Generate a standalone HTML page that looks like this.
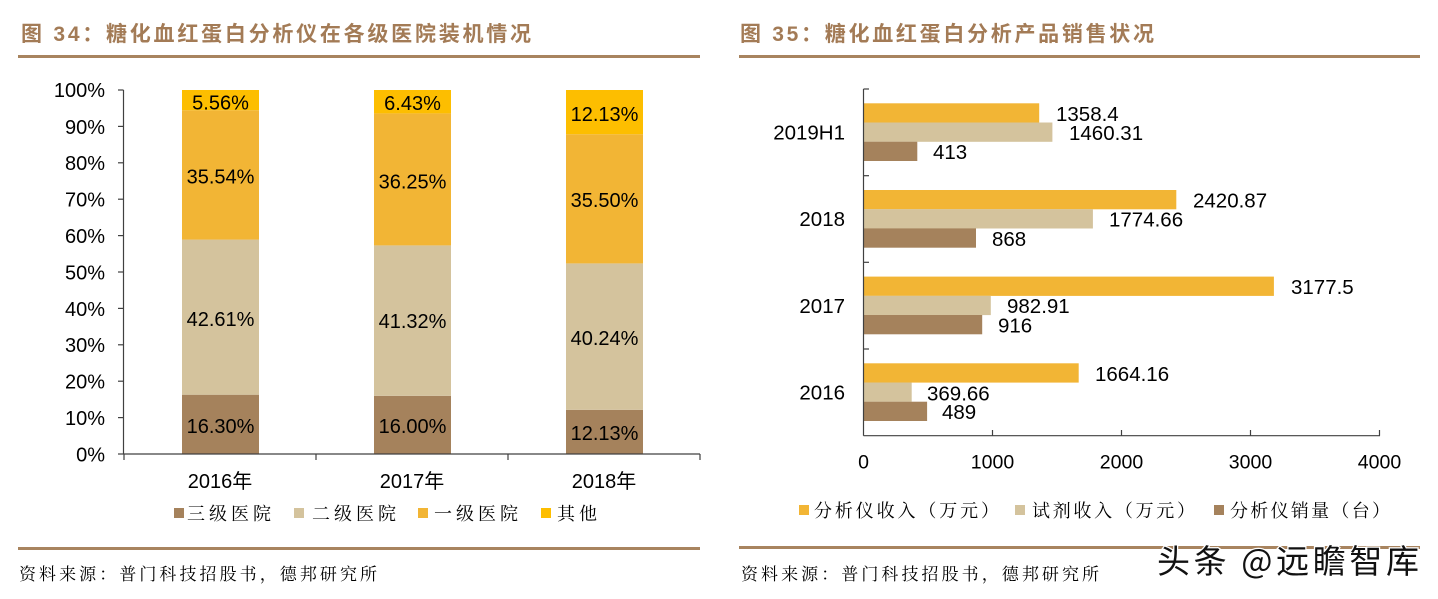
<!DOCTYPE html>
<html>
<head>
<meta charset="utf-8">
<style>
html,body{margin:0;padding:0;background:#fff;}
svg{display:block;}
.num{font-family:"Liberation Sans",Arial,sans-serif;fill:#000;}
.title{font-family:"Liberation Sans","Noto Sans CJK SC",sans-serif;font-weight:bold;fill:#a37b56;font-size:21px;}
.leg{font-family:"Noto Serif CJK SC","Noto Sans CJK SC",serif;fill:#000;font-size:18px;}
.src{font-family:"Noto Serif CJK SC","Noto Sans CJK SC",serif;fill:#000;font-size:17px;}
.cat{font-family:"Liberation Sans","Noto Sans CJK SC",sans-serif;fill:#000;font-size:20px;}
</style>
</head>
<body>
<svg width="1438" height="599" viewBox="0 0 1438 599" xmlns="http://www.w3.org/2000/svg">
<rect width="1438" height="599" fill="#fff"/>

<!-- ============ LEFT CHART ============ -->
<text class="title" x="21" y="41" textLength="510">图 34：糖化血红蛋白分析仪在各级医院装机情况</text>
<rect x="18" y="55" width="682" height="3" fill="#a8845f"/>

<!-- bars 2016 -->
<rect x="182" y="394.7" width="77" height="59.3" fill="#a5825c"/>
<rect x="182" y="239.6" width="77" height="155.1" fill="#d4c39d"/>
<rect x="182" y="110.2" width="77" height="129.4" fill="#f2b535"/>
<rect x="182" y="90" width="77" height="20.2" fill="#fdbe00"/>
<!-- bars 2017 -->
<rect x="374" y="395.8" width="77" height="58.2" fill="#a5825c"/>
<rect x="374" y="245.4" width="77" height="150.4" fill="#d4c39d"/>
<rect x="374" y="113.4" width="77" height="132" fill="#f2b535"/>
<rect x="374" y="90" width="77" height="23.4" fill="#fdbe00"/>
<!-- bars 2018 -->
<rect x="566" y="409.8" width="77" height="44.2" fill="#a5825c"/>
<rect x="566" y="263.4" width="77" height="146.4" fill="#d4c39d"/>
<rect x="566" y="134.2" width="77" height="129.2" fill="#f2b535"/>
<rect x="566" y="90" width="77" height="44.2" fill="#fdbe00"/>

<g class="num" font-size="20" text-anchor="middle">
  <text x="220.5" y="109.5">5.56%</text>
  <text x="220.5" y="183.5">35.54%</text>
  <text x="220.5" y="326">42.61%</text>
  <text x="220.5" y="433">16.30%</text>

  <text x="412.5" y="110">6.43%</text>
  <text x="412.5" y="188.5">36.25%</text>
  <text x="412.5" y="328">41.32%</text>
  <text x="412.5" y="433">16.00%</text>

  <text x="604.5" y="121">12.13%</text>
  <text x="604.5" y="207">35.50%</text>
  <text x="604.5" y="345">40.24%</text>
  <text x="604.5" y="440">12.13%</text>
</g>

<!-- left axes -->
<g stroke="#404040" stroke-width="1.2" fill="none">
  <line x1="123.5" y1="90" x2="123.5" y2="454"/>
  <line x1="123.5" y1="454" x2="700" y2="454"/>
  <line x1="118" y1="90" x2="123.5" y2="90"/>
  <line x1="118" y1="126.4" x2="123.5" y2="126.4"/>
  <line x1="118" y1="162.8" x2="123.5" y2="162.8"/>
  <line x1="118" y1="199.2" x2="123.5" y2="199.2"/>
  <line x1="118" y1="235.6" x2="123.5" y2="235.6"/>
  <line x1="118" y1="272" x2="123.5" y2="272"/>
  <line x1="118" y1="308.4" x2="123.5" y2="308.4"/>
  <line x1="118" y1="344.8" x2="123.5" y2="344.8"/>
  <line x1="118" y1="381.2" x2="123.5" y2="381.2"/>
  <line x1="118" y1="417.6" x2="123.5" y2="417.6"/>
  <line x1="118" y1="454" x2="123.5" y2="454"/>
  <line x1="124" y1="454" x2="124" y2="460"/>
  <line x1="316" y1="454" x2="316" y2="460"/>
  <line x1="508" y1="454" x2="508" y2="460"/>
  <line x1="700" y1="454" x2="700" y2="460"/>
</g>
<g class="num" font-size="20" text-anchor="end">
  <text x="105" y="97">100%</text>
  <text x="105" y="134">90%</text>
  <text x="105" y="170">80%</text>
  <text x="105" y="206.5">70%</text>
  <text x="105" y="243">60%</text>
  <text x="105" y="279.5">50%</text>
  <text x="105" y="316">40%</text>
  <text x="105" y="352">30%</text>
  <text x="105" y="388.5">20%</text>
  <text x="105" y="425">10%</text>
  <text x="105" y="461.5">0%</text>
</g>
<g class="cat" text-anchor="middle">
  <text x="220" y="488">2016年</text>
  <text x="412" y="488">2017年</text>
  <text x="604" y="488">2018年</text>
</g>

<!-- left legend -->
<rect x="174" y="508" width="10" height="10" fill="#a5825c"/>
<text class="leg" x="187" y="520" textLength="84">三级医院</text>
<rect x="294" y="508" width="10" height="10" fill="#d4c39d"/>
<text class="leg" x="312" y="520" textLength="84">二级医院</text>
<rect x="418" y="508" width="10" height="10" fill="#f2b535"/>
<text class="leg" x="434" y="520" textLength="84">一级医院</text>
<rect x="541" y="508" width="10" height="10" fill="#fdbe00"/>
<text class="leg" x="557" y="520" textLength="40">其他</text>

<rect x="18" y="547" width="682" height="3" fill="#a8845f"/>
<text class="src" x="19" y="580" textLength="358">资料来源：普门科技招股书，德邦研究所</text>

<!-- ============ RIGHT CHART ============ -->
<text class="title" x="740" y="41" textLength="414">图 35：糖化血红蛋白分析产品销售状况</text>
<rect x="739" y="55" width="681" height="3" fill="#a8845f"/>

<!-- 2019H1 (top 89) -->
<rect x="864" y="103.3" width="175.2" height="19.3" fill="#f2b535"/>
<rect x="864" y="122.5" width="188.4" height="19.3" fill="#d4c39d"/>
<rect x="864" y="141.7" width="53.3" height="19.3" fill="#a5825c"/>
<!-- 2018 (top 175.7) -->
<rect x="864" y="190" width="312.3" height="19.3" fill="#f2b535"/>
<rect x="864" y="209.2" width="228.9" height="19.3" fill="#d4c39d"/>
<rect x="864" y="228.4" width="112" height="19.3" fill="#a5825c"/>
<!-- 2017 (top 262.3) -->
<rect x="864" y="276.6" width="409.9" height="19.3" fill="#f2b535"/>
<rect x="864" y="295.8" width="126.8" height="19.3" fill="#d4c39d"/>
<rect x="864" y="315" width="118.2" height="19.3" fill="#a5825c"/>
<!-- 2016 (top 349) -->
<rect x="864" y="363.3" width="214.7" height="19.3" fill="#f2b535"/>
<rect x="864" y="382.5" width="47.7" height="19.3" fill="#d4c39d"/>
<rect x="864" y="401.7" width="63.1" height="19.3" fill="#a5825c"/>

<g class="num" font-size="20.5">
  <text x="1056" y="121">1358.4</text>
  <text x="1069" y="140">1460.31</text>
  <text x="933" y="159">413</text>

  <text x="1193" y="207.5">2420.87</text>
  <text x="1109" y="226.5">1774.66</text>
  <text x="992" y="246">868</text>

  <text x="1291" y="294">3177.5</text>
  <text x="1007" y="313">982.91</text>
  <text x="998" y="332.5">916</text>

  <text x="1095" y="381">1664.16</text>
  <text x="927" y="400.5">369.66</text>
  <text x="942" y="419">489</text>
</g>

<!-- right axes -->
<g stroke="#404040" stroke-width="1.2" fill="none">
  <line x1="863.5" y1="89" x2="863.5" y2="435.7"/>
  <line x1="863.5" y1="435.7" x2="1380" y2="435.7"/>
  <line x1="863.5" y1="89" x2="869" y2="89"/>
  <line x1="863.5" y1="175.7" x2="869" y2="175.7"/>
  <line x1="863.5" y1="262.3" x2="869" y2="262.3"/>
  <line x1="863.5" y1="349" x2="869" y2="349"/>
  <line x1="992.5" y1="430" x2="992.5" y2="435.7"/>
  <line x1="1121.5" y1="430" x2="1121.5" y2="435.7"/>
  <line x1="1250.5" y1="430" x2="1250.5" y2="435.7"/>
  <line x1="1379.5" y1="430" x2="1379.5" y2="435.7"/>
</g>
<g class="num" font-size="20.5" text-anchor="end">
  <text x="845" y="139.5">2019H1</text>
  <text x="845" y="226">2018</text>
  <text x="845" y="313">2017</text>
  <text x="845" y="399.5">2016</text>
</g>
<g class="num" font-size="19.5" text-anchor="middle">
  <text x="863.5" y="468.5">0</text>
  <text x="992.5" y="468.5">1000</text>
  <text x="1121.5" y="468.5">2000</text>
  <text x="1250.5" y="468.5">3000</text>
  <text x="1379.5" y="468.5">4000</text>
</g>

<!-- right legend -->
<rect x="799" y="505" width="10" height="10" fill="#f2b535"/>
<text class="leg" x="814" y="517" textLength="185">分析仪收入（万元）</text>
<rect x="1015" y="505" width="10" height="10" fill="#d4c39d"/>
<text class="leg" x="1032" y="517" textLength="163">试剂收入（万元）</text>
<rect x="1214" y="505" width="10" height="10" fill="#a5825c"/>
<text class="leg" x="1230" y="517" textLength="160">分析仪销量（台）</text>

<rect x="739" y="546" width="681" height="3" fill="#a8845f"/>
<text class="src" x="741" y="580" textLength="358">资料来源：普门科技招股书，德邦研究所</text>

<!-- watermark -->
<text x="1157" y="573" font-family="'Noto Sans CJK SC','WenQuanYi Zen Hei',sans-serif" font-size="33" fill="#111" stroke="#fff" stroke-width="2.5" paint-order="stroke" textLength="262">头条 @远瞻智库</text>
</svg>
</body>
</html>
